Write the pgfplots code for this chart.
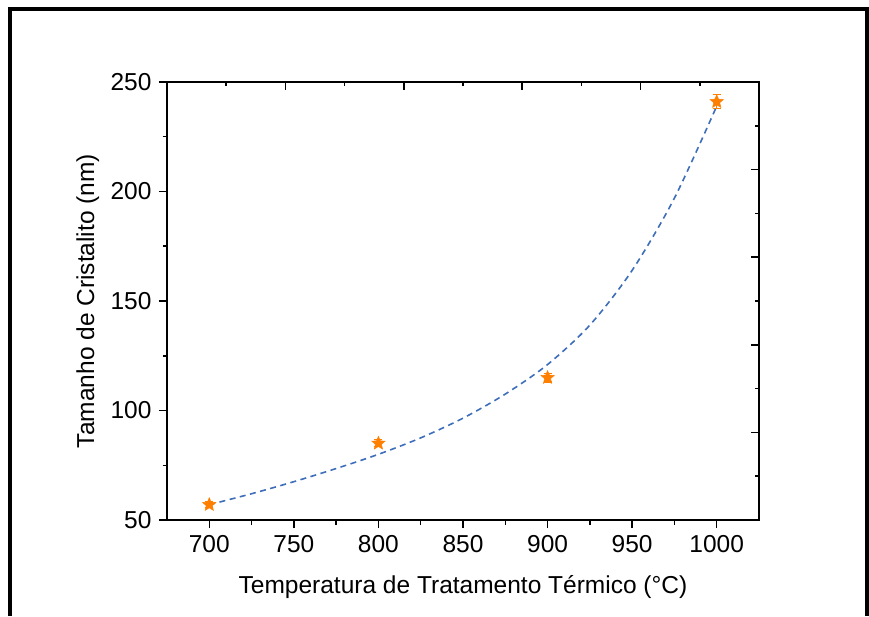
\documentclass[border=0pt]{standalone}
\usepackage{pgfplots}
\pgfplotsset{compat=1.18}
\usepackage{fontspec}
\setmainfont{Liberation Sans}
\definecolor{orng}{RGB}{255,127,0}
\definecolor{fitblue}{RGB}{62,110,185}
\pgfdeclareplotmark{fstar}{%
  \pgfpathmoveto{\pgfpointpolar{90}{\pgfplotmarksize}}%
  \pgfpathlineto{\pgfpointpolar{126}{0.45\pgfplotmarksize}}%
  \pgfpathlineto{\pgfpointpolar{162}{\pgfplotmarksize}}%
  \pgfpathlineto{\pgfpointpolar{198}{0.45\pgfplotmarksize}}%
  \pgfpathlineto{\pgfpointpolar{234}{\pgfplotmarksize}}%
  \pgfpathlineto{\pgfpointpolar{270}{0.45\pgfplotmarksize}}%
  \pgfpathlineto{\pgfpointpolar{306}{\pgfplotmarksize}}%
  \pgfpathlineto{\pgfpointpolar{342}{0.45\pgfplotmarksize}}%
  \pgfpathlineto{\pgfpointpolar{18}{\pgfplotmarksize}}%
  \pgfpathlineto{\pgfpointpolar{54}{0.45\pgfplotmarksize}}%
  \pgfpathclose
  \pgfusepathqfillstroke}
\pgfplotsset{
  common/.style={
    at={(167pt,96pt)}, anchor=south west,
    scale only axis, width=592pt, height=438pt,
    xmin=675, xmax=1025, ymin=50, ymax=250,
    font=\fontsize{24.5}{29}\selectfont,
    /pgf/number format/assume math mode=true,
    /pgf/number format/1000 sep={},
    axis line style={line width=2pt},
    every tick/.style={line width=1.5pt, black},
    major tick length=8pt, minor tick length=4.5pt,
    clip=false,
  }
}
\begin{document}
\begin{tikzpicture}
\useasboundingbox (0,0) rectangle (869pt,616pt);
\draw[line width=4pt] (10pt,0) -- (10pt,607pt) -- (867pt,607pt) -- (867pt,0);
\begin{axis}[common,
  xtick={700,750,800,850,900,950,1000},
  ytick={50,100,150,200,250},
  minor x tick num=1, minor y tick num=1,
  xtick pos=bottom, ytick pos=left, tick align=outside,
  xticklabel style={yshift=-4pt},
  yticklabel style={xshift=-4pt},
  xlabel={Temperatura de Tratamento Térmico (°C)},
  ylabel={Tamanho de Cristalito (nm)},
  every axis x label/.style={at={(axis description cs:0.5,-0.152)}, anchor=center},
  every axis y label/.style={at={(axis description cs:-0.134,0.5)}, rotate=90, anchor=center},
]
\addplot[fitblue, line width=1.6pt, dash pattern=on 6pt off 4.5pt, smooth] coordinates {
(700,57) (725,62) (750,67.5) (775,73.5) (800,80) (825,87.5) (850,96.5)
(875,107.5) (900,121) (925,139) (950,164) (975,197) (1000,239)
};
\addplot[orng, draw=none, mark=fstar, mark size=7pt,
  mark options={fill=orng, draw=orng, line width=0.5pt},
  error bars/.cd, y dir=both, y explicit,
  error bar style={orng, line width=1.2pt},
  error mark options={rotate=90, mark size=4pt, line width=1.2pt, orng}]
coordinates {
(700,57) +- (0,1.3)
(800,85) +- (0,1.6)
(900,115) +- (0,2)
(1000,241) +- (0,3.2)
};
\end{axis}
\begin{axis}[common,
  xtick={745,815,885,955},
  minor xtick={710,780,850,920,990},
  ytick={90,130,170,210},
  minor ytick={70,110,150,190,230},
  xtick pos=top, ytick pos=right, tick align=inside,
  xticklabels={}, yticklabels={},
]
\end{axis}
\end{tikzpicture}
\end{document}
